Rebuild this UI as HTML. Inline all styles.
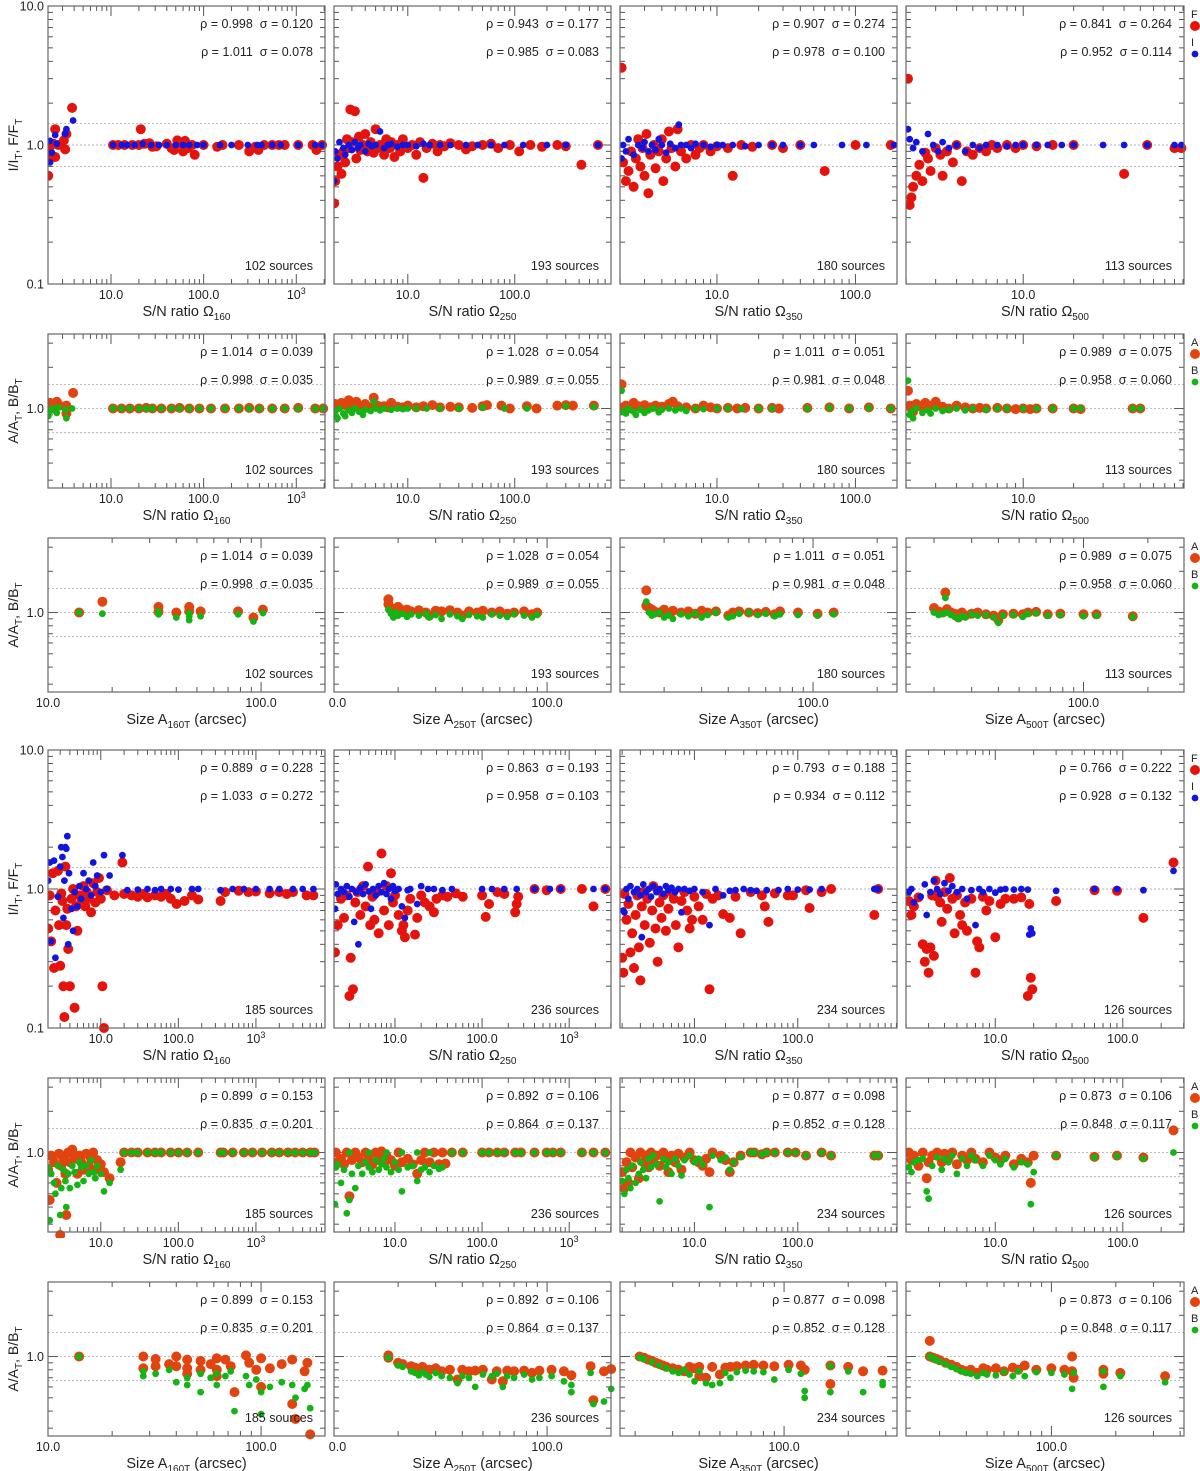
<!DOCTYPE html>
<html><head><meta charset="utf-8">
<style>
html,body{margin:0;padding:0;background:#fff;}
svg{display:block;font-family:"Liberation Sans",Arial,sans-serif;}
</style></head>
<body>
<svg id="fig" width="1200" height="1471" viewBox="0 0 1200 1471" xmlns="http://www.w3.org/2000/svg"></svg>
<script>
// ---------- DATA ----------
const r1c1F=[[2.1,0.6],[2.2,0.8],[2.2,0.98],[2.4,1.02],[2.5,0.82],[2.5,1.3],[2.7,1.0],[3.1,1.08],[3.2,0.93],[3.3,1.2],[3.8,1.85],[10.5,1],[12,1],[14,1],[17,1],[20,1],[21,1.3],[23,1.02],[26,1.03],[28,0.97],[31,0.98],[40,1.02],[45,0.95],[48,0.92],[52,1.08],[55,1.03],[60,0.9],[63,1.07],[68,0.95],[75,1],[80,0.85],[100,1],[140,0.97],[160,1],[240,1],[310,0.9],[360,0.97],[390,0.92],[450,1],[550,1],[650,1],[750,1],[1050,1],[1500,1],[1650,0.92],[1900,1]];
const r1c1I=[[2.2,1.07],[2.2,0.75],[2.3,0.88],[2.5,1.18],[2.6,1.02],[3.2,1.2],[3.3,1.3],[3.9,1.5],[10.5,1],[13,1],[15,1],[18,1],[22,1.02],[27,1],[33,1],[40,1],[50,1],[60,1],[70,1],[85,1],[100,1],[150,1],[200,1],[300,1],[380,1],[420,1],[550,1],[680,1],[1050,1],[1600,1],[1900,1]];
const r1c2F=[[2.05,0.38],[2.1,0.55],[2.2,0.7],[2.3,0.85],[2.4,0.62],[2.5,0.9],[2.6,0.75],[2.7,1.1],[2.8,0.95],[2.9,1.8],[3,1.05],[3.2,1.75],[3.3,0.8],[3.5,1.15],[3.6,0.92],[3.8,1.0],[4,1.2],[4.2,0.9],[4.5,1.05],[4.8,0.88],[5,1.3],[5.2,0.95],[5.5,1.0],[6,0.85],[6.3,1.1],[6.8,0.95],[7,1.05],[7.5,0.82],[8,1.0],[8.5,0.9],[9,1.1],[10,0.95],[11,1.0],[12,0.85],[13,1.05],[14,0.58],[15,0.95],[17,1.02],[19,0.9],[20,1.0],[22,0.98],[25,1.03],[30,1.0],[35,0.93],[40,0.98],[50,1.0],[60,1.02],[70,0.95],[90,1.0],[110,0.9],[140,1.0],[180,0.97],[250,1.0],[300,0.98],[420,0.72],[600,1.0]];
const r1c2I=[[2.05,0.55],[2.1,0.9],[2.2,0.8],[2.3,1.05],[2.5,0.95],[2.6,0.85],[2.8,1.0],[3,0.92],[3.2,1.05],[3.4,0.95],[3.6,1.0],[4,0.9],[4.3,1.02],[4.6,0.98],[5,1.0],[5.5,1.25],[6,0.95],[6.5,1.0],[7,1.02],[8,0.97],[9,1.0],[10,1.0],[12,0.98],[14,1.02],[16,1.0],[20,1.0],[25,1.0],[35,1.0],[45,1.0],[60,1.0],[80,1.0],[120,1.0],[200,1.0],[300,1.0],[600,1.0]];
const r1c3F=[[2.05,3.6],[2.1,0.75],[2.2,0.55],[2.3,0.65],[2.4,0.9],[2.5,0.5],[2.6,0.8],[2.7,1.1],[2.8,0.7],[2.9,0.95],[3,0.6],[3.1,1.2],[3.2,0.45],[3.3,0.85],[3.5,1.0],[3.6,0.68],[3.8,0.9],[4,1.1],[4.1,0.55],[4.3,0.8],[4.5,1.25],[4.7,0.95],[5,0.7],[5.2,1.3],[5.5,0.9],[6,0.8],[6.5,1.0],[7,0.85],[7.5,0.95],[8,1.0],[9,0.9],[10,0.98],[12,0.95],[13,0.6],[15,1.0],[18,0.97],[25,1.0],[30,0.95],[40,1.0],[60,0.65],[100,1.0],[180,1.0]];
const r1c3I=[[2.05,0.8],[2.1,1.0],[2.2,0.9],[2.3,1.1],[2.5,0.85],[2.7,1.0],[2.9,0.95],[3,1.05],[3.2,0.9],[3.4,1.0],[3.6,0.92],[3.8,1.1],[4,1.0],[4.3,0.88],[4.6,1.02],[5,0.95],[5.3,1.4],[5.5,1.0],[6,1.0],[6.5,0.95],[7,1.02],[8,1.0],[9,0.97],[10,1.0],[11,1.0],[13,1.0],[16,0.98],[20,1.0],[25,1.0],[30,1.0],[40,1.0],[50,1.0],[80,1.0],[120,1.0],[190,1.0]];
const r1c4F=[[2.05,3.0],[2.1,0.37],[2.15,0.42],[2.2,0.5],[2.3,0.6],[2.4,0.72],[2.5,0.55],[2.6,0.88],[2.7,0.8],[2.8,0.65],[3,0.95],[3.2,0.85],[3.3,0.6],[3.5,0.9],[3.8,0.75],[4,1.0],[4.3,0.55],[4.6,0.9],[5,0.85],[5.5,0.95],[6,0.9],[6.5,1.0],[7,0.95],[8,1.0],[9,0.95],[10,1.0],[12,0.98],[15,1.0],[20,1.0],[40,0.62],[55,1.0],[80,0.95],[88,0.95]];
const r1c4I=[[2.05,1.3],[2.1,1.1],[2.2,0.95],[2.3,1.05],[2.5,0.9],[2.7,1.2],[2.9,1.0],[3.1,0.9],[3.3,1.05],[3.6,0.95],[4,1.0],[4.5,0.9],[5,1.0],[5.5,0.95],[6,1.0],[7,1.0],[8,0.98],[9,1.0],[10,1.0],[12,1.0],[14,1.0],[17,1.0],[20,1.0],[30,1.0],[40,1.0],[55,1.0],[80,1.0],[88,1.0]];
const r2c1A=[[2.1,1.05],[2.2,1.1],[2.4,1.0],[2.6,1.12],[2.8,1.05],[3.3,0.92],[3.3,1.05],[3.9,1.3],[10.5,1],[13,1],[16,1],[20,1],[24,1.01],[28,1],[35,1],[45,1],[55,1.01],[70,1],[90,1],[120,1],[170,1],[240,1],[310,1.01],[400,1],[550,1],[750,1],[1050,1.01],[1600,1],[1950,1]];
const r2c1B=[[2.1,0.88],[2.2,0.96],[2.3,1.0],[2.6,0.93],[2.7,1.02],[3.2,0.98],[3.3,0.85],[3.8,1.0],[10.5,1],[13,1],[16,1],[20,1],[24,1],[28,1],[35,1],[45,1],[55,1],[70,1],[90,1],[120,1],[170,1],[240,1],[310,1],[400,1],[550,1],[750,1],[1050,1],[1600,1],[1950,1]];
const r2c2A=[[2.05,1.05],[2.1,1.08],[2.2,1.02],[2.4,1.1],[2.6,1.06],[2.8,1.15],[3,1.04],[3.3,1.12],[3.6,1.03],[4,1.08],[4.5,1.02],[4.8,1.2],[5.2,1.05],[6,1.04],[6.5,1.02],[7,1.1],[8,1.03],[9,1.02],[10,1.05],[12,1.02],[14,1.04],[17,1.06],[20,1.02],[25,1.03],[30,1.02],[40,1.01],[50,1.04],[55,1.06],[75,1.05],[90,1.0],[130,1.04],[160,1.0],[250,1.05],[300,1.06],[350,1.05],[550,1.05]];
const r2c2B=[[2.05,0.9],[2.1,0.95],[2.2,0.85],[2.3,1.0],[2.5,0.92],[2.6,0.88],[2.8,0.97],[3,0.93],[3.2,1.0],[3.5,0.95],[3.8,0.9],[4,0.98],[4.5,0.96],[4.8,1.12],[5,1.0],[5.5,0.97],[6,1.0],[7,0.98],[8,1.0],[9,0.99],[10,1.0],[12,1.0],[15,1.0],[20,1.0],[30,1.0],[50,1.02],[80,1.0],[130,1.0],[300,1.04],[550,1.03]];
const r2c3A=[[2.05,1.5],[2.1,1.02],[2.2,1.05],[2.4,1.0],[2.5,1.1],[2.7,1.04],[3,1.06],[3.3,1.02],[3.6,1.05],[4,1.03],[4.5,1.08],[4.8,1.12],[5.2,1.04],[6,1.02],[7,1.0],[8,1.05],[9,1.02],[10,1.0],[12,1.01],[14,1.0],[16,1.01],[20,1.0],[25,1.01],[28,1.0],[45,1.01],[65,1.02],[90,1.0],[125,1.02],[180,1.0]];
const r2c3B=[[2.05,1.35],[2.1,0.95],[2.2,0.92],[2.3,1.0],[2.5,0.95],[2.6,0.9],[2.8,0.98],[3,0.93],[3.2,0.97],[3.5,1.0],[3.8,0.94],[4,0.98],[4.5,1.0],[5,0.97],[5.5,1.0],[6,0.96],[7,1.0],[8,0.99],[10,1.0],[12,1.0],[15,0.99],[20,1.0],[25,1.0],[45,1.0],[65,1.01],[90,1.0],[125,1.01],[180,1.0]];
const r2c4A=[[2.05,1.35],[2.1,1.05],[2.15,1.0],[2.2,0.95],[2.3,1.08],[2.5,1.02],[2.6,1.1],[2.8,1.05],[3,1.12],[3.3,1.03],[3.6,1.0],[4,1.05],[4.5,1.02],[5,1.0],[5.5,1.01],[6,1.0],[7,1.01],[8,1.0],[9,0.99],[10,1.0],[11,0.99],[12,1.0],[15,1.0],[20,1.0],[22,0.99],[45,1.0],[50,1.0]];
const r2c4B=[[2.05,1.6],[2.1,0.9],[2.15,0.95],[2.2,0.85],[2.3,1.0],[2.5,0.93],[2.7,0.97],[2.8,0.92],[3,1.0],[3.3,0.96],[3.6,0.98],[4,1.0],[4.5,0.97],[5,1.0],[6,0.98],[7,1.0],[8,1.0],[10,1.0],[12,1.0],[15,1.0],[20,1.0],[22,1.0],[45,1.0],[50,1.0]];
const r3c1A=[[14,1.0],[18,1.2],[33,1.1],[33,1.01],[40,1.0],[46,1.1],[46,1.02],[52,1.02],[78,1.02],[92,0.92],[102,1.05]];
const r3c1B=[[14,1.0],[18,0.98],[33,0.97],[33,1.02],[40,0.92],[46,0.99],[46,0.88],[46,0.94],[52,0.94],[78,0.97],[92,0.86],[102,0.99]];
const r3c2A=[[18,1.25],[18,1.15],[18.5,1.08],[19,1.05],[19.5,1.0],[20,1.1],[21,1.04],[22,1.05],[23,1.02],[25,1.04],[27,1.0],[28,0.95],[30,1.03],[32,1.02],[35,1.04],[38,1.0],[40,0.95],[43,1.02],[47,1.0],[50,1.03],[55,1.0],[60,1.02],[65,0.98],[70,1.0],[78,1.02],[85,0.97],[90,1.0]];
const r3c2B=[[18,1.05],[18.5,0.98],[19,0.92],[19.5,1.0],[20,0.95],[21,0.98],[22,0.93],[23,0.97],[25,0.95],[27,0.98],[28,0.92],[30,0.96],[32,0.9],[35,0.97],[38,0.94],[40,0.9],[43,0.96],[47,0.94],[50,0.92],[55,0.97],[60,0.95],[65,0.93],[70,0.97],[78,0.95],[85,0.92],[90,0.96]];
const r3c3A=[[16.5,1.45],[16.5,1.12],[17,1.08],[17.5,1.05],[18,1.02],[19,1.0],[20,1.05],[21,0.98],[22,1.03],[24,1.0],[26,1.02],[28,0.98],[30,1.03],[32,1.0],[35,1.02],[40,0.95],[42,1.0],[45,1.02],[50,1.0],[55,0.99],[60,1.01],[66,0.97],[70,1.02],[85,1.0],[105,0.98],[125,1.0]];
const r3c3B=[[16.5,1.2],[17,1.0],[17.5,0.95],[18,0.97],[19,1.0],[20,0.92],[21,0.96],[22,0.9],[24,0.97],[26,0.94],[28,0.98],[30,0.92],[32,0.96],[35,1.0],[40,0.92],[42,0.94],[45,0.98],[50,1.0],[55,0.96],[60,0.98],[66,0.94],[70,0.97],[85,0.96],[105,0.95],[125,0.97]];
const r3c4A=[[20,1.08],[21,1.02],[22,1.0],[22.6,1.4],[23,1.06],[24,1.0],[25,0.98],[26,0.92],[27,1.0],[28,0.95],[30,0.98],[32,1.0],[35,0.97],[38,0.95],[40,0.88],[42,0.97],[47,0.98],[52,0.97],[55,1.0],[60,1.01],[68,0.97],[78,0.98],[100,0.97],[115,0.97],[170,0.94]];
const r3c4B=[[20,1.0],[21,0.96],[22,0.98],[22.6,1.28],[23,1.0],[24,0.96],[25,0.93],[26,0.9],[27,0.94],[28,0.92],[30,0.97],[32,0.95],[35,0.96],[38,0.92],[40,0.84],[42,0.95],[47,0.96],[52,0.93],[55,0.98],[60,0.99],[68,0.95],[78,0.96],[100,0.94],[115,0.95],[170,0.93]];
const r4c1F=[[2.1,0.52],[2.2,0.9],[2.3,0.42],[2.4,1.3],[2.5,0.27],[2.6,0.7],[2.8,1.35],[2.9,0.55],[3,0.28],[3.1,0.93],[3.2,0.82],[3.3,0.2],[3.4,0.12],[3.5,1.45],[3.6,0.55],[3.7,0.72],[3.8,0.37],[4,0.2],[4.2,0.85],[4.4,1.0],[4.6,0.14],[4.8,0.75],[5,0.5],[5.3,0.9],[5.6,0.8],[6,1.05],[6.3,0.75],[6.6,0.95],[7,0.85],[7.5,0.68],[8,1.1],[8.5,0.8],[9,0.95],[9.5,1.2],[10,0.85],[10.5,0.2],[11,0.1],[12,0.98],[15,0.9],[19,1.55],[20,0.92],[25,0.9],[30,0.88],[35,0.92],[40,0.87],[50,0.9],[60,0.88],[70,0.92],[80,0.85],[95,0.78],[120,0.82],[150,0.9],[180,0.84],[350,0.82],[400,0.95],[600,0.97],[800,0.95],[1000,0.96],[1500,0.93],[2000,0.95],[2500,0.92],[3000,0.95],[4500,0.9],[5500,0.9]];
const r4c1I=[[2.1,1.15],[2.2,1.55],[2.3,0.42],[2.5,1.6],[2.6,0.32],[2.8,0.88],[3,1.45],[3.1,2.0],[3.2,1.7],[3.3,0.62],[3.4,1.15],[3.5,2.0],[3.6,1.95],[3.7,2.4],[3.8,0.4],[3.9,1.3],[4.2,0.72],[4.4,0.5],[4.6,0.95],[5,0.75],[5.3,1.05],[5.6,0.85],[6,1.3],[6.5,1.0],[7,1.15],[7.5,0.9],[8,1.55],[8.5,1.05],[9,1.25],[10,0.95],[11,1.75],[12,1.0],[13,1.25],[19,1.75],[22,0.98],[30,0.99],[40,1.0],[50,0.98],[60,1.0],[80,1.0],[100,0.99],[150,1.0],[180,1.0],[350,0.98],[500,1.0],[700,1.0],[1000,1.0],[1500,1.0],[2000,1.0],[3000,1.0],[4000,1.0],[5500,1.0]];
const r4c2F=[[2.05,0.35],[2.2,0.55],[2.4,0.85],[2.6,0.62],[2.8,0.9],[3,0.17],[3.1,0.32],[3.3,0.19],[3.5,0.8],[3.7,0.95],[4,0.65],[4.3,1.05],[4.6,0.75],[4.9,1.45],[5.2,0.55],[5.5,0.88],[5.8,0.6],[6.2,0.95],[6.5,0.48],[7,1.8],[7.5,0.7],[8,1.05],[8.5,0.55],[9,1.3],[9.5,0.8],[10,0.9],[11,0.65],[12,0.5],[12.5,0.55],[13,0.45],[14,0.7],[15,0.85],[17,0.47],[18,0.62],[20,0.9],[22,0.8],[25,0.75],[28,0.68],[30,0.85],[35,0.9],[40,0.88],[50,0.93],[60,0.88],[100,0.9],[110,0.63],[120,0.78],[150,0.95],[180,0.92],[240,0.68],[250,0.78],[260,0.88],[400,1.0],[550,0.98],[800,1.0],[1400,1.0],[1900,0.75],[2600,1.0]];
const r4c2I=[[2.05,0.72],[2.1,1.08],[2.2,0.92],[2.4,1.0],[2.6,0.95],[2.8,1.05],[3,0.88],[3.2,1.0],[3.4,0.58],[3.6,0.95],[3.8,0.4],[4,1.02],[4.3,0.92],[4.6,1.08],[5,0.96],[5.3,0.72],[5.6,1.0],[6,0.9],[6.5,1.05],[7,0.95],[7.5,1.1],[8,0.92],[8.5,1.0],[9,0.85],[9.5,1.05],[10,0.97],[11,1.0],[12,0.75],[13,0.62],[14,0.98],[15,1.0],[18,0.78],[20,1.05],[24,1.0],[28,1.0],[35,0.98],[45,1.0],[100,1.0],[130,1.0],[180,1.0],[250,1.0],[400,1.0],[600,1.0],[800,1.0],[1900,1.0],[2600,1.0]];
const r4c3F=[[2.0,0.32],[2.05,0.25],[2.1,0.92],[2.2,0.6],[2.3,0.78],[2.4,0.35],[2.5,0.48],[2.6,0.27],[2.7,0.65],[2.8,0.9],[2.9,0.38],[3,0.22],[3.1,0.75],[3.2,0.95],[3.3,0.55],[3.5,0.85],[3.7,0.41],[3.9,0.7],[4,1.05],[4.2,0.52],[4.4,0.3],[4.6,0.8],[4.8,0.62],[5,0.9],[5.3,0.5],[5.6,0.72],[6,0.95],[6.3,0.85],[6.6,0.55],[7,0.38],[7.5,0.82],[8,0.95],[8.5,0.7],[9,0.52],[9.5,0.6],[10,0.88],[11,0.75],[12,0.6],[13,0.92],[14,0.19],[15,0.85],[17,0.9],[19,0.66],[22,0.62],[25,0.88],[28,0.48],[35,0.95],[45,0.9],[48,0.75],[52,0.58],[60,0.93],[80,0.9],[90,0.9],[120,0.98],[130,0.73],[170,0.95],[210,1.0],[550,0.65],[600,1.0]];
const r4c3I=[[2.05,0.7],[2.1,0.68],[2.2,1.0],[2.3,0.85],[2.4,1.05],[2.6,0.95],[2.8,1.0],[3,0.9],[3.1,0.45],[3.2,1.08],[3.4,0.95],[3.6,1.0],[3.8,0.88],[4,1.05],[4.3,0.95],[4.6,1.0],[5,0.92],[5.3,1.05],[5.6,0.98],[6,1.02],[6.5,0.95],[7,1.0],[7.5,0.68],[8,1.0],[9,0.97],[10,1.0],[12,0.95],[14,0.55],[16,1.0],[19,0.9],[22,0.97],[25,0.98],[30,1.0],[35,0.98],[40,0.97],[50,0.98],[65,0.98],[80,1.0],[100,0.99],[130,0.99],[170,1.0],[550,1.0],[600,1.0]];
const r4c4F=[[2.1,0.82],[2.2,0.65],[2.3,0.75],[2.5,0.87],[2.7,0.4],[2.8,0.3],[2.9,0.37],[3.0,0.25],[3.1,0.38],[3.2,0.9],[3.3,0.33],[3.4,1.15],[3.5,0.88],[3.7,0.8],[3.8,0.58],[4,0.95],[4.2,0.72],[4.4,1.2],[4.6,0.85],[4.8,0.48],[5,0.9],[5.3,0.65],[5.5,0.55],[5.8,0.8],[6,0.5],[6.5,0.85],[7,0.25],[7.2,0.42],[7.5,0.38],[8,0.88],[8.5,0.7],[9,0.82],[10,0.45],[11,0.78],[12,0.85],[14,0.85],[16,0.87],[18,0.17],[19,0.23],[19.5,0.19],[18.5,0.78],[30,0.82],[60,0.98],[90,0.97],[145,0.62],[250,1.55]];
const r4c4I=[[2.1,0.95],[2.2,1.0],[2.3,0.8],[2.6,0.88],[2.8,1.08],[2.9,0.65],[3.1,0.95],[3.3,1.15],[3.5,1.0],[3.7,0.92],[4,1.1],[4.3,0.97],[4.6,1.05],[5,0.95],[5.5,1.0],[6,0.85],[6.5,0.98],[7,0.55],[7.5,1.0],[8,0.95],[9,1.0],[10,0.94],[11,0.99],[12,1.0],[14,0.99],[16,1.0],[18,0.99],[18.5,0.47],[19,0.52],[19.5,0.48],[30,0.97],[60,1.0],[90,1.0],[145,0.98],[250,1.35]];
const r5c1A=[[2.1,0.75],[2.2,0.45],[2.3,0.95],[2.5,0.85],[2.7,0.6],[2.9,0.98],[3.0,0.25],[3.1,0.8],[3.3,0.9],[3.5,0.7],[3.6,0.35],[3.8,1.0],[4,0.85],[4.3,1.05],[4.6,0.9],[5,0.7],[5.3,0.95],[5.6,0.85],[6,0.75],[6.5,0.98],[7,0.8],[7.5,0.9],[8,1.0],[8.5,0.75],[9,0.88],[10,0.82],[11,0.72],[13,0.65],[18,0.85],[20,1],[25,1],[30,1],[40,1],[50,1],[60,1],[80,1],[100,1],[130,1],[180,1],[350,1],[380,1],[500,1],[700,1],[900,1],[1200,1],[1600,1],[2000,1],[2600,1],[3200,1],[4000,1],[5000,1],[5700,1]];
const r5c1B=[[2.1,0.78],[2.2,0.32],[2.3,0.7],[2.5,0.6],[2.6,0.5],[2.8,0.8],[3.0,0.35],[3.1,0.55],[3.3,0.75],[3.5,0.62],[3.6,0.4],[3.8,0.7],[4,0.55],[4.3,0.8],[4.6,0.72],[5,0.58],[5.3,0.85],[5.6,0.78],[6,0.62],[6.5,0.8],[7,0.7],[7.5,0.88],[8,0.72],[8.5,0.65],[9,0.8],[10,0.7],[11,0.52],[13,0.6],[18,0.75],[20,1],[25,1],[30,1],[40,1],[50,1],[60,1],[80,1],[100,1],[130,1],[180,1],[350,1],[380,1],[500,1],[700,1],[900,1],[1200,1],[1600,1],[2000,1],[2600,1],[3200,1],[4000,1],[5000,1],[5700,1]];
const r5c2A=[[2.05,0.8],[2.1,1.0],[2.2,0.85],[2.4,0.9],[2.6,0.82],[2.8,1.0],[3.0,0.48],[3.2,0.88],[3.5,1.0],[3.8,0.92],[4.2,0.85],[4.6,1.0],[5,0.9],[5.5,0.82],[6,1.0],[6.5,0.88],[7,1.02],[7.5,0.85],[8,0.95],[9,0.88],[10,0.8],[11,1.0],[12,0.85],[14,0.9],[16,0.82],[18,0.7],[20,0.88],[22,1.0],[25,0.85],[28,1.0],[32,0.82],[35,1.0],[38,0.83],[45,1.0],[60,1.0],[100,1.0],[120,1.0],[150,1.0],[180,1.0],[240,1.0],[280,1.0],[400,1.0],[550,1.0],[650,1.0],[800,1.0],[1400,1.0],[1900,1.0],[2600,1.0]];
const r5c2B=[[2.05,0.42],[2.1,0.78],[2.2,0.82],[2.4,0.6],[2.6,0.75],[2.8,0.36],[3.0,0.45],[3.2,0.7],[3.5,0.55],[3.8,0.8],[4.2,0.7],[4.6,0.85],[5,0.78],[5.5,0.72],[6,0.88],[6.5,0.75],[7,0.82],[7.5,0.9],[8,0.78],[9,0.72],[10,0.85],[11,0.75],[12,0.52],[14,0.78],[16,0.8],[18,0.62],[20,0.75],[22,0.78],[25,0.72],[28,0.8],[32,0.76],[35,0.78],[3,1],[5,1],[8,1],[12,1],[18,1],[25,1],[45,1],[60,1],[100,1],[120,1],[150,1],[180,1],[240,1],[280,1],[400,1],[550,1],[650,1],[800,1],[1400,1],[1900,1],[2600,1]];
const r5c3A=[[2.0,0.72],[2.1,0.55],[2.2,0.85],[2.3,0.6],[2.4,1.0],[2.5,0.78],[2.7,0.92],[2.9,0.65],[3,1.0],[3.2,0.85],[3.4,0.95],[3.6,0.78],[3.8,1.0],[4,0.88],[4.3,0.95],[4.6,0.8],[5,1.0],[5.3,0.9],[5.6,0.72],[6,0.95],[6.5,0.85],[7,0.98],[7.5,0.75],[8,0.92],[9,1.0],[10,0.88],[11,0.85],[12,0.8],[13,0.9],[14,0.72],[15,1.0],[18,0.95],[20,0.88],[22,0.72],[24,0.85],[28,0.95],[35,1.0],[38,1.0],[45,0.97],[50,1.0],[60,1.0],[80,1.0],[95,1.0],[120,0.95],[170,1.0],[210,0.95],[550,0.95],[600,0.95]];
const r5c3B=[[2.0,0.62],[2.1,0.5],[2.2,0.75],[2.3,0.65],[2.4,0.55],[2.5,0.8],[2.7,0.6],[2.9,0.7],[3,0.85],[3.2,0.75],[3.4,0.65],[3.6,0.9],[3.8,0.78],[4,0.95],[4.3,0.82],[4.6,0.44],[5,0.9],[5.3,0.78],[5.6,0.85],[6,0.7],[6.5,0.9],[7,0.8],[7.5,0.68],[8,0.88],[9,0.95],[10,0.85],[11,0.9],[12,0.82],[14,0.4],[15,0.95],[18,0.88],[20,0.92],[22,0.75],[24,0.85],[28,0.93],[35,1.0],[38,1.0],[45,0.97],[50,1.0],[60,1.0],[80,1.0],[95,1.0],[120,0.95],[170,1.0],[210,0.95],[550,0.95],[600,0.95]];
const r5c4A=[[2.1,1.0],[2.2,0.88],[2.3,0.95],[2.5,0.8],[2.7,1.0],[2.9,0.65],[3.0,0.85],[3.2,0.95],[3.5,1.0],[3.8,0.85],[4,0.98],[4.3,0.9],[4.6,1.0],[5,0.82],[5.5,0.95],[6,0.88],[6.5,1.0],[7,0.9],[8,0.85],[9,1.0],[10,0.92],[11,0.88],[12,0.95],[14,0.82],[16,0.9],[18,0.85],[19,0.6],[20,0.95],[30,0.95],[60,0.93],[90,0.95],[145,0.92],[250,1.45]];
const r5c4B=[[2.1,0.78],[2.2,0.72],[2.3,0.85],[2.5,0.88],[2.7,0.9],[2.9,0.52],[3.0,0.46],[3.2,0.8],[3.5,0.92],[3.8,0.75],[4,0.9],[4.3,0.85],[4.6,0.95],[5,0.7],[5.5,0.9],[6,0.8],[6.5,0.95],[7,0.88],[8,0.8],[9,0.95],[10,0.88],[11,0.82],[12,0.9],[14,0.78],[16,0.85],[18,0.82],[19,0.42],[20,0.72],[30,0.95],[60,0.92],[90,0.94],[145,0.9],[250,1.0]];
const r6c1A=[[14,1.0],[28,1.0],[28,0.82],[32,0.96],[32,0.85],[37,0.88],[40,1.0],[40,0.85],[45,0.95],[45,0.82],[45,0.75],[52,0.93],[52,0.8],[58,0.88],[62,0.97],[62,0.8],[62,0.72],[68,0.95],[72,0.85],[75,0.55],[85,1.02],[88,0.9],[95,0.8],[100,0.97],[100,0.6],[110,0.82],[125,0.88],[140,0.95],[140,0.45],[145,0.35],[160,0.78],[165,0.9],[170,0.27]];
const r6c1B=[[14,1.0],[28,0.78],[28,0.72],[32,0.75],[37,0.8],[40,0.65],[45,0.7],[45,0.62],[52,0.75],[52,0.55],[58,0.7],[62,0.75],[62,0.62],[68,0.72],[72,0.78],[75,0.4],[85,0.72],[88,0.62],[95,0.68],[100,0.55],[100,0.38],[110,0.6],[125,0.65],[140,0.62],[145,0.5],[160,0.58],[165,0.62],[170,0.42]];
const r6c2A=[[18,1.02],[18,0.98],[20,0.9],[21,0.88],[23,0.85],[24,0.83],[25,0.8],[26,0.84],[27,0.78],[28,0.8],[30,0.82],[32,0.78],[35,0.8],[38,0.68],[40,0.8],[43,0.78],[46,0.79],[50,0.8],[55,0.68],[58,0.78],[62,0.66],[65,0.79],[70,0.78],[78,0.79],[85,0.76],[92,0.79],[105,0.8],[120,0.78],[130,0.73],[160,0.85],[165,0.48],[185,0.78],[200,0.81]];
const r6c2B=[[18,0.98],[20,0.86],[21,0.84],[23,0.78],[24,0.76],[25,0.73],[26,0.77],[27,0.74],[28,0.71],[30,0.76],[32,0.72],[35,0.7],[38,0.64],[40,0.72],[43,0.7],[46,0.6],[50,0.74],[55,0.72],[58,0.75],[62,0.6],[65,0.72],[70,0.7],[78,0.74],[85,0.68],[92,0.7],[105,0.72],[120,0.66],[130,0.55],[130,0.62],[160,0.76],[165,0.45],[185,0.47],[200,0.58]];
const r6c3A=[[21,1.0],[22,0.98],[23,0.95],[24,0.93],[25,0.9],[26,0.88],[27,0.86],[28,0.84],[30,0.82],[32,0.8],[34,0.78],[36,0.84],[38,0.82],[40,0.72],[40,0.84],[43,0.7],[46,0.84],[50,0.74],[53,0.83],[56,0.84],[60,0.85],[66,0.86],[72,0.87],[80,0.86],[90,0.85],[105,0.87],[120,0.86],[125,0.8],[165,0.86],[165,0.63],[200,0.84],[235,0.78],[290,0.79]];
const r6c3B=[[21,0.98],[22,0.96],[24,0.91],[26,0.86],[28,0.82],[30,0.78],[32,0.76],[34,0.8],[36,0.74],[38,0.66],[40,0.78],[43,0.64],[46,0.62],[50,0.64],[53,0.76],[56,0.7],[60,0.77],[66,0.79],[72,0.78],[80,0.77],[90,0.68],[105,0.8],[120,0.75],[125,0.56],[125,0.5],[165,0.85],[165,0.55],[200,0.78],[235,0.55],[290,0.62],[290,0.65]];
const r6c4A=[[27,1.3],[27,1.0],[28,0.98],[29,0.96],[30,0.94],[32,0.9],[34,0.87],[36,0.84],[38,0.8],[40,0.78],[42,0.8],[45,0.76],[48,0.82],[50,0.8],[55,0.82],[60,0.78],[66,0.83],[70,0.8],[75,0.86],[85,0.8],[100,0.82],[115,0.8],[125,1.0],[125,0.78],[127,0.7],[175,0.75],[175,0.8],[210,0.76],[340,0.72]];
const r6c4B=[[27,1.0],[28,0.97],[29,0.94],[30,0.92],[32,0.88],[34,0.84],[36,0.81],[38,0.78],[40,0.76],[42,0.75],[45,0.72],[48,0.76],[50,0.74],[55,0.73],[60,0.77],[66,0.72],[70,0.78],[75,0.72],[85,0.77],[100,0.76],[115,0.74],[125,0.58],[127,0.76],[175,0.6],[175,0.78],[210,0.72],[340,0.65]];

const statsTop=[["0.998","0.120","1.011","0.078"],["0.943","0.177","0.985","0.083"],["0.907","0.274","0.978","0.100"],["0.841","0.264","0.952","0.114"]];
const statsAB1=[["1.014","0.039","0.998","0.035"],["1.028","0.054","0.989","0.055"],["1.011","0.051","0.981","0.048"],["0.989","0.075","0.958","0.060"]];
const statsBot=[["0.889","0.228","1.033","0.272"],["0.863","0.193","0.958","0.103"],["0.793","0.188","0.934","0.112"],["0.766","0.222","0.928","0.132"]];
const statsAB2=[["0.899","0.153","0.835","0.201"],["0.892","0.106","0.864","0.137"],["0.877","0.098","0.852","0.128"],["0.873","0.106","0.848","0.117"]];
const sources1=["102","193","180","113"];
const sources2=["185","236","234","126"];
const bands=["160","250","350","500"];

// ---------- LAYOUT ----------
const NS="http://www.w3.org/2000/svg";
const svg=document.getElementById('fig');
const colX=[[48,325],[334,611],[620,897],[906,1184]];
const rowY=[[6,284],[334,488],[538,692],[750,1028],[1078,1232],[1282,1436]];
const xr={snA:[[0.32,3.31],[0.31,2.90],[0.30,2.30],[0.30,1.96]],
 size1:[[1,2.30],[1,2.30],[1.094,2.394],[1.17,2.47]],
 snB:[[0.32,3.89],[0.30,3.48],[0.28,2.96],[0.30,2.48]],
 size2:[[1,2.30],[1,2.30],[1.23,2.53],[1.32,2.62]]};
const COL={F:"#e4140c",I:"#1414e0",A:"#e2440f",B:"#14b414"};
const RAD={F:5,I:3.4,A:5,B:3.4};

function el(tag,attrs,parent){const e=document.createElementNS(NS,tag);for(const k in attrs)e.setAttribute(k,attrs[k]);(parent||svg).appendChild(e);return e;}

const rows=[
 {kind:"IF",xs:"snA",y:[-1,1],data:[[r1c1F,r1c1I],[r1c2F,r1c2I],[r1c3F,r1c3I],[r1c4F,r1c4I]],stats:statsTop,src:sources1,xt:"sn"},
 {kind:"AB",xs:"snA",y:[-0.58,0.544],data:[[r2c1A,r2c1B],[r2c2A,r2c2B],[r2c3A,r2c3B],[r2c4A,r2c4B]],stats:statsAB1,src:sources1,xt:"sn"},
 {kind:"AB",xs:"size1",y:[-0.58,0.544],data:[[r3c1A,r3c1B],[r3c2A,r3c2B],[r3c3A,r3c3B],[r3c4A,r3c4B]],stats:statsAB1,src:sources1,xt:"size"},
 {kind:"IF",xs:"snB",y:[-1,1],data:[[r4c1F,r4c1I],[r4c2F,r4c2I],[r4c3F,r4c3I],[r4c4F,r4c4I]],stats:statsBot,src:sources2,xt:"sn"},
 {kind:"AB",xs:"snB",y:[-0.58,0.544],data:[[r5c1A,r5c1B],[r5c2A,r5c2B],[r5c3A,r5c3B],[r5c4A,r5c4B]],stats:statsAB2,src:sources2,xt:"sn"},
 {kind:"AB",xs:"size2",y:[-0.58,0.544],data:[[r6c1A,r6c1B],[r6c2A,r6c2B],[r6c3A,r6c3B],[r6c4A,r6c4B]],stats:statsAB2,src:sources2,xt:"size"}
];

rows.forEach((row,ri)=>{
 const [y0,y1]=rowY[ri];
 const [ylo,yhi]=row.y;
 const ys=v=>y1-(Math.log10(v)-ylo)/(yhi-ylo)*(y1-y0);
 const names=row.kind==="IF"?["F","I"]:["A","B"];
 for(let ci=0;ci<4;ci++){
  const [x0,x1]=colX[ci];
  const [xlo,xhi]=xr[row.xs][ci];
  const xs=v=>x0+(Math.log10(v)-xlo)/(xhi-xlo)*(x1-x0);
  const g=el('g',{});
  
  
  const cid='clip'+ri+'_'+ci;
  const cp=el('clipPath',{id:cid},g);
  el('rect',{x:x0,y:y0-6,width:x1-x0+8,height:y1-y0+12},cp);
  const lid='lclip'+ri+'_'+ci;
  const lp=el('clipPath',{id:lid},g);
  el('rect',{x:x0-5,y:y0,width:x1-x0+40,height:y1-y0+40},lp);
  const refs=row.kind==="IF"?[1.43,1.0,0.7]:[1.5,1.0,0.667];
  refs.forEach(r=>{const l=el('line',{x1:x0,x2:x1,y1:ys(r),y2:ys(r),stroke:"#b4b4b4","stroke-width":0.9,"stroke-dasharray":"2,2"},g);
   });
  for(let d=Math.floor(ylo);d<=Math.ceil(yhi);d++){
   for(let m=1;m<10;m++){const v=m*Math.pow(10,d);const lv=Math.log10(v);if(lv<ylo-1e-6||lv>yhi+1e-6)continue;
    const L=m===1?10:5;const yy=ys(v);
    el('line',{x1:x0,x2:x0+L,y1:yy,y2:yy,stroke:"#555","stroke-width":1},g);
    el('line',{x1:x1,x2:x1-L,y1:yy,y2:yy,stroke:"#555","stroke-width":1},g);}
  }
  for(let d=Math.floor(xlo);d<=Math.ceil(xhi);d++){
   for(let m=1;m<10;m++){const v=m*Math.pow(10,d);const lv=Math.log10(v);if(lv<xlo-1e-6||lv>xhi+1e-6)continue;
    const L=m===1?10:5;const xx=xs(v);
    el('line',{x1:xx,x2:xx,y1:y1,y2:y1-L,stroke:"#555","stroke-width":1},g);
    el('line',{x1:xx,x2:xx,y1:y0,y2:y0+L,stroke:"#555","stroke-width":1},g);}
   if(d>=xlo-0.02&&d<=xhi+0.02){
    const ta={x:xs(Math.pow(10,d)),y:y1+15,"text-anchor":"middle","font-size":12.5,fill:"#222"};
    if(ci>0)ta["clip-path"]="url(#"+lid+")";
    const t=el('text',ta,g);
    
    if(d===3){t.textContent="10";const s=el('tspan',{"font-size":9,dy:-5},t);s.textContent="3";}
    else t.textContent=d===1?"10.0":"100.0";
   }
  }
  const pts=el('g',{"clip-path":"url(#"+cid+")"},g);
  row.data[ci].forEach((series,si)=>{
   const nm=names[si];
   series.forEach(p=>{
    const c=el('circle',{cx:xs(p[0]).toFixed(1),cy:ys(p[1]).toFixed(1),r:RAD[nm],fill:COL[nm]},pts);
    
    
   });
  });
  const fr=el('rect',{x:x0,y:y0,width:x1-x0,height:y1-y0,fill:"none",stroke:"#666","stroke-width":1.2},g);
  
  const st=row.stats[ci];
  [[st[0],st[1]],[st[2],st[3]]].forEach((s,k)=>{
   const t=el('text',{x:x1-12,y:y0+22+k*28,"text-anchor":"end","font-size":12.5,fill:"#222"},g);
   
   t.textContent="\u03C1 = "+s[0]+"  \u03C3 = "+s[1];
   t.style.whiteSpace='pre';
  });
  const sc=el('text',{x:x1-12,y:y1-14,"text-anchor":"end","font-size":12.5,fill:"#222"},g);
  
  sc.textContent=row.src[ci]+" sources";
  const xt=el('text',{x:(x0+x1)/2,y:y1+32,"text-anchor":"middle","font-size":14.5,fill:"#222"},g);
  
  if(row.xt==="sn"){xt.appendChild(document.createTextNode("S/N ratio \u03A9"));const s=el('tspan',{"font-size":10,dy:4},xt);s.textContent=bands[ci];}
  else{xt.appendChild(document.createTextNode("Size A"));const s=el('tspan',{"font-size":10,dy:4},xt);s.textContent=bands[ci]+"T";const s2=el('tspan',{dy:-4},xt);s2.textContent=" (arcsec)";}
 }
 const ylabs=row.kind==="IF"?[[10,"10.0"],[1,"1.0"],[0.1,"0.1"]]:[[1,"1.0"]];
 ylabs.forEach(([v,s])=>{const t=el('text',{x:44,y:ys(v)+4.5,"text-anchor":"end","font-size":12.5,fill:"#222"});
  t.textContent=s;});
 const yc=(y0+y1)/2;
 const yt=el('text',{x:0,y:0,"text-anchor":"middle","font-size":14,fill:"#222",transform:"translate(18,"+yc+") rotate(-90)"});
 
 const a=names[1]==="I"?["I/I","F/F"]:["A/A","B/B"];
 yt.appendChild(document.createTextNode(a[0]));
 let s=el('tspan',{"font-size":10,dy:4},yt);s.textContent="T";
 s=el('tspan',{dy:-4},yt);s.textContent=", "+a[1];
 s=el('tspan',{"font-size":10,dy:4},yt);s.textContent="T";
 const lg=el('g',{});
 
 const ln=row.kind==="IF"?["F","I"]:["A","B"];
 ln.forEach((n,k)=>{
  const t=el('text',{x:1191,y:y0+12+k*28,"font-size":11,fill:"#222"},lg);
  t.textContent=n;
  const c=el('circle',{cx:1195,cy:y0+20+k*28,r:RAD[n],fill:COL[n]},lg);
  
 });
});
</script>
</body></html>
